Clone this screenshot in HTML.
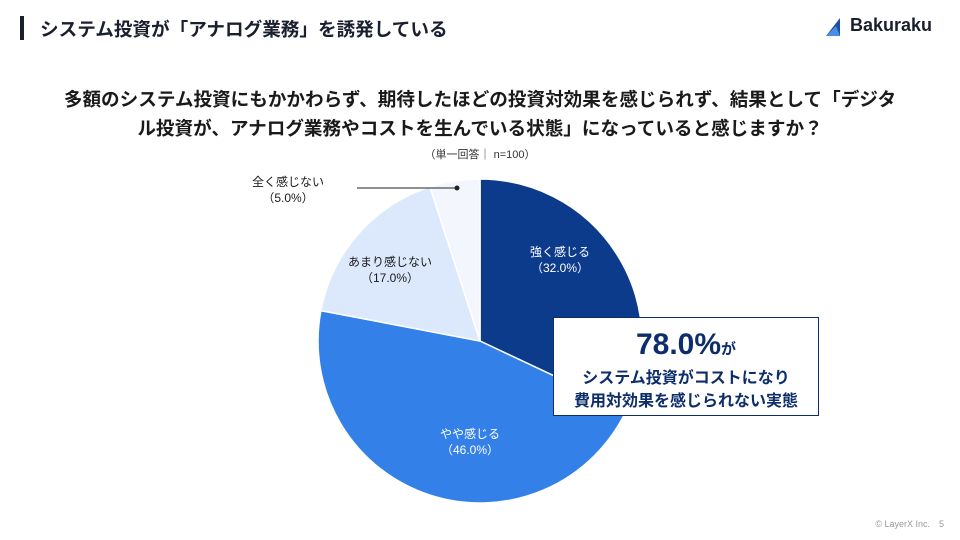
<!DOCTYPE html>
<html><head><meta charset="utf-8"><style>
body{margin:0;width:960px;height:540px;background:#fff;font-family:"Liberation Sans","Noto Sans CJK JP",sans-serif;position:relative;overflow:hidden;color:#1a1a1a}
.a{position:absolute;white-space:nowrap}
</style></head><body>
<div class="a" style="left:20px;top:16px;width:4px;height:24px;background:#1a1f2e"></div>
<div class="a" style="left:40px;top:15px;font-size:18.6px;font-weight:bold;color:#1a1f2e">システム投資が「アナログ業務」を誘発している</div>
<svg class="a" style="left:826px;top:18px" width="22" height="18"><polygon points="0,18 14,0 14,18" fill="#1d4fa3"/><polygon points="0,18 10,8 14,18" fill="#4a90e2"/></svg>
<div class="a" style="left:850px;top:15px;font-size:18px;font-weight:bold;color:#1a1f2e">Bakuraku</div>
<div class="a" style="left:0;width:960px;top:85px;text-align:center;font-size:18.6px;font-weight:bold;line-height:29px">多額のシステム投資にもかかわらず、期待したほどの投資対効果を感じられず、結果として「デジタ<br>ル投資が、アナログ業務やコストを生んでいる状態」になっていると感じますか？</div>
<div class="a" style="left:0;width:960px;top:146px;text-align:center;font-size:11px;color:#333">（単一回答｜ n=100）</div>
<svg class="a" style="left:0;top:0" width="960" height="540">
<g stroke="#fff" stroke-width="1.5">
<path d="M480,341 L480,179 A162,162 0 0 1 626.6,410 Z" fill="#0d3b8c"/>
<path d="M480,341 L626.6,410 A162,162 0 0 1 320.9,310.6 Z" fill="#3381e8"/>
<path d="M480,341 L320.9,310.6 A162,162 0 0 1 429.9,186.9 Z" fill="#dce8fb"/>
<path d="M480,341 L429.9,186.9 A162,162 0 0 1 480,179 Z" fill="#f3f7fd"/>
</g>
<line x1="357" y1="188" x2="457" y2="188" stroke="#222" stroke-width="1"/>
<circle cx="457" cy="188" r="2.5" fill="#222"/>
</svg>
<div class="a" style="left:238px;top:174px;width:100px;text-align:center;font-size:12px;line-height:16px">全く感じない<br>（5.0%）</div>
<div class="a" style="left:340px;top:254px;width:100px;text-align:center;font-size:12px;line-height:16px">あまり感じない<br>（17.0%）</div>
<div class="a" style="left:510px;top:244px;width:100px;text-align:center;font-size:12px;line-height:16px;color:#fff">強く感じる<br>（32.0%）</div>
<div class="a" style="left:420px;top:426px;width:100px;text-align:center;font-size:12px;line-height:16px;color:#fff">やや感じる<br>（46.0%）</div>
<div class="a" style="left:553px;top:317px;width:264px;height:97px;border:1.5px solid #0d2d6b;background:#fff;text-align:center;color:#0d2d6b;font-weight:bold">
<div style="margin-top:10px;font-size:30px;line-height:34px">78.0%<span style="font-size:15px">が</span></div>
<div style="font-size:16px;line-height:23px">システム投資がコストになり<br>費用対効果を感じられない実態</div></div>
<div class="a" style="right:16px;top:517px;font-size:9px;color:#999">© LayerX Inc.　5</div>
</body></html>
